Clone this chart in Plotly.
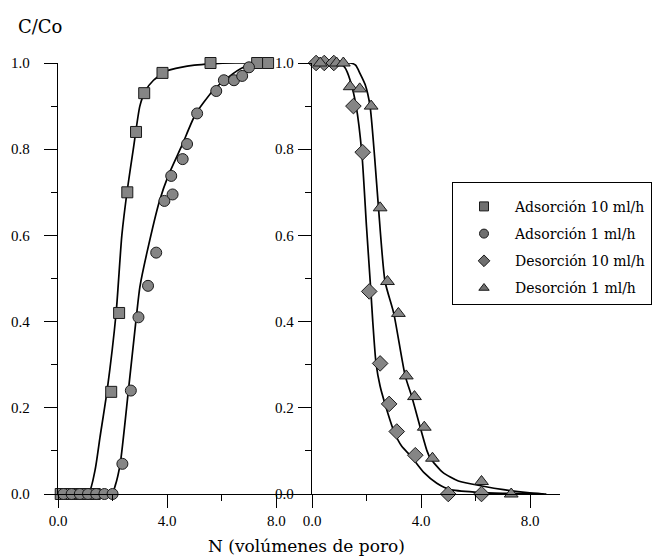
import plotly.graph_objects as go

# ---------------- data ----------------
# Left panel: adsorption
a10_x = [0.1, 0.35, 0.6, 0.85, 1.1, 1.35, 1.95, 2.24, 2.54, 2.86, 3.16, 3.83, 5.59, 7.3, 7.7]
a10_y = [0.0, 0.0, 0.0, 0.0, 0.0, 0.0, 0.237, 0.42, 0.70, 0.84, 0.93, 0.977, 1.0, 1.0, 1.0]
a1_x = [0.2, 0.5, 0.8, 1.1, 1.4, 1.7, 2.0, 2.36, 2.67, 2.95, 3.3, 3.6, 3.9, 4.15, 4.2, 4.57,
        4.73, 5.1, 5.8, 6.08, 6.45, 6.75, 7.0]
a1_y = [0.0, 0.0, 0.0, 0.0, 0.0, 0.0, 0.0, 0.07, 0.24, 0.41, 0.483, 0.56, 0.68, 0.738, 0.695, 0.777,
        0.812, 0.883, 0.935, 0.96, 0.96, 0.97, 0.99]
# fitted curves (left)
a10_fit_x = [0.0, 1.1, 1.36, 1.54, 1.8, 2.13, 2.34, 2.55, 2.76, 3.0, 3.2, 3.5, 4.0, 4.5, 5.0, 5.6, 6.5, 7.6]
a10_fit_y = [0.0, 0.0, 0.056, 0.132, 0.24, 0.42, 0.6, 0.71, 0.8, 0.9, 0.935, 0.96, 0.982, 0.99, 0.995, 0.998, 1.0, 1.0]
a1_fit_x = [0.0, 1.97, 2.1, 2.28, 2.58, 2.87, 3.0, 3.26, 3.72, 4.05, 4.55, 5.03, 5.67, 6.2, 6.8, 7.6]
a1_fit_y = [0.0, 0.0, 0.02, 0.07, 0.24, 0.41, 0.48, 0.56, 0.68, 0.74, 0.81, 0.88, 0.935, 0.965, 0.99, 1.0]

# Right panel: desorption
d10_x = [0.15, 0.45, 0.8, 1.52, 1.86, 2.1, 2.5, 2.83, 3.11, 3.79, 5.0, 6.22]
d10_y = [1.0, 1.0, 1.0, 0.90, 0.793, 0.47, 0.303, 0.209, 0.145, 0.09, 0.0, 0.0]
d1_x = [0.3, 0.9, 1.15, 1.40, 1.75, 2.17, 2.5, 2.77, 3.17, 3.46, 3.76, 4.12, 4.42, 6.22, 7.31]
d1_y = [1.0, 1.0, 1.0, 0.945, 0.94, 0.90, 0.664, 0.493, 0.419, 0.274, 0.226, 0.155, 0.083, 0.029, 0.0]
d10_fit_x = [0.0, 1.0, 1.2, 1.4, 1.62, 1.83, 2.0, 2.16, 2.23, 2.35, 2.5, 2.68, 3.01, 3.3, 3.6, 4.1,
             4.58, 5.07, 6.05, 7.0, 8.6]
d10_fit_y = [1.0, 1.0, 0.99, 0.96, 0.9, 0.79, 0.62, 0.47, 0.4, 0.303, 0.25, 0.209, 0.145, 0.11, 0.09, 0.05,
             0.025, 0.01, 0.004, 0.0015, 0.0]
d1_fit_x = [0.0, 1.4, 1.6, 1.76, 1.95, 2.13, 2.3, 2.44, 2.68, 3.0, 3.42, 3.66, 3.97, 4.22, 4.34, 4.8,
            5.37, 6.29, 7.03, 7.9, 8.5]
d1_fit_y = [1.0, 1.0, 0.995, 0.976, 0.95, 0.9, 0.78, 0.664, 0.493, 0.419, 0.274, 0.226, 0.155, 0.1, 0.083, 0.05,
            0.03, 0.018, 0.01, 0.003, 0.0]

names = ["Adsorción 10 ml/h", "Adsorción 1 ml/h", "Desorción 10 ml/h", "Desorción 1 ml/h"]
symbols = ["square", "circle", "diamond", "triangle-up"]
x_ticks = [0, 4, 8]
y_ticks = [0, 0.2, 0.4, 0.6, 0.8, 1.0]

# ---------------- figure ----------------
W, H = 653, 559
fig = go.Figure()

LINE = dict(color="black", width=1.7, shape="spline", smoothing=0.6)
MFILL = "#858585"
MEDGE = dict(color="#1a1a1a", width=1)

def curve(x, y, xa, ya):
    fig.add_trace(go.Scatter(x=x, y=y, mode="lines", line=LINE, showlegend=False,
                             hoverinfo="skip", xaxis=xa, yaxis=ya, cliponaxis=False))

def pts(x, y, sym, size, xa, ya):
    fig.add_trace(go.Scatter(x=x, y=y, mode="markers", showlegend=False,
                             marker=dict(symbol=sym, size=size, color=MFILL, line=MEDGE),
                             xaxis=xa, yaxis=ya, cliponaxis=False))

curve(a10_fit_x, a10_fit_y, "x", "y")
curve(a1_fit_x, a1_fit_y, "x", "y")
curve(d10_fit_x, d10_fit_y, "x2", "y2")
curve(d1_fit_x, d1_fit_y, "x2", "y2")

pts(a10_x, a10_y, symbols[0], 11, "x", "y")
pts(a1_x, a1_y, symbols[1], 11, "x", "y")
pts(d10_x, d10_y, symbols[2], 12, "x2", "y2")
pts(d1_x, d1_y, symbols[3], 12, "x2", "y2")

# legend entries (smaller symbols, as in the reference legend)
for nm, sym in zip(names, symbols):
    fig.add_trace(go.Scatter(x=[None], y=[None], mode="markers", name=nm, legendgroup=nm,
                             marker=dict(symbol=sym, size=9, color="#6f6f6f", line=MEDGE),
                             xaxis="x2", yaxis="y2"))

TICKFONT = dict(family="Liberation Serif", size=15, color="black")

def xax(domain, rng):
    return dict(domain=domain, range=rng, showline=True, linecolor="black", linewidth=1.3,
                ticks="outside", ticklen=13, tickwidth=1.2, tickcolor="black",
                tickvals=x_ticks, tickformat=".1f", tickfont=TICKFONT, automargin=False,
                minor=dict(dtick=2, tick0=0, ticks="outside", ticklen=6, tickcolor="black", tickwidth=1),
                showgrid=False, zeroline=False, fixedrange=True)

def yax(anchor, standoff):
    return dict(anchor=anchor, domain=[0, 1], range=[0, 1], showline=True, linecolor="black",
                linewidth=1.3, ticks="outside", ticklen=13, tickwidth=1.2, tickcolor="black",
                tickvals=y_ticks, tickformat=".1f", tickfont=TICKFONT, ticklabelstandoff=standoff,
                automargin=False,
                minor=dict(dtick=0.1, tick0=0, ticks="outside", ticklen=6, tickcolor="black", tickwidth=1),
                showgrid=False, zeroline=False, fixedrange=True)

fig.update_layout(
    width=W, height=H,
    margin=dict(l=0, r=0, t=63, b=65, autoexpand=False),
    paper_bgcolor="white", plot_bgcolor="white",
    xaxis=dict(anchor="y", **xax([58 / W, 309 / W], [0, 9.2])),
    yaxis=yax("x", 11),
    xaxis2=dict(anchor="y2", **xax([312 / W, 560 / W], [0, 9.1])),
    yaxis2=yax("x2", 1),
    showlegend=True,
    legend=dict(x=452 / W, y=(494 - 182) / 431, xanchor="left", yanchor="top",
                bordercolor="black", borderwidth=1, bgcolor="white",
                font=dict(family="DejaVu Serif", size=14, color="black"),
                title=dict(text=" ", font=dict(size=6)),
                tracegroupgap=6, itemwidth=52),
    annotations=[
        dict(text="C/Co", x=16 / W, y=(494 - 27) / 431, xref="paper", yref="paper",
             xanchor="left", yanchor="middle", showarrow=False,
             font=dict(family="DejaVu Serif", size=18, color="black")),
        dict(text="N (volúmenes de poro)", x=306 / W, y=(494 - 546) / 431, xref="paper", yref="paper",
             xanchor="center", yanchor="middle", showarrow=False,
             font=dict(family="DejaVu Serif", size=17, color="black")),
    ],
)

fig.write_html("out.html")
